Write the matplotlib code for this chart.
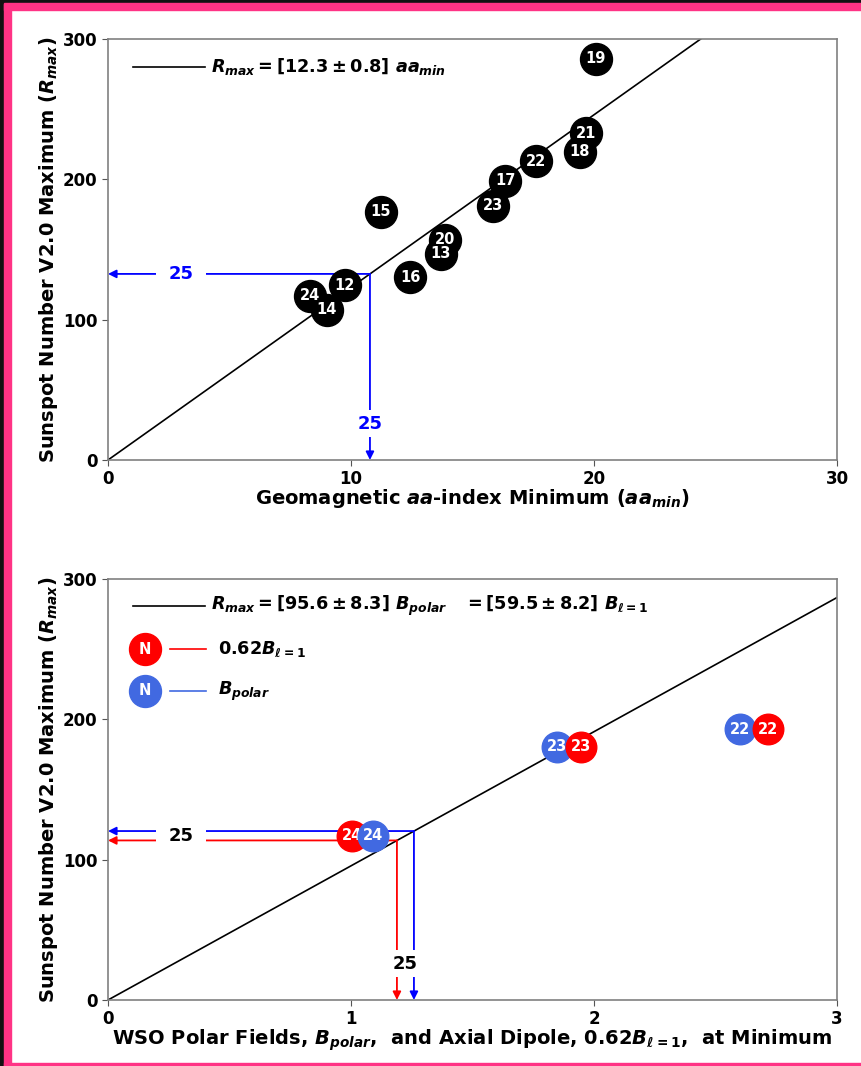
import matplotlib
matplotlib.use("Agg")
import matplotlib.pyplot as plt
from matplotlib.patches import Rectangle

plt.rcParams['font.family'] = ['DejaVu Sans']
plt.rcParams['font.weight'] = 'bold'
plt.rcParams['mathtext.fontset'] = 'custom'
plt.rcParams['mathtext.rm'] = 'DejaVu Sans:bold'
plt.rcParams['mathtext.it'] = 'DejaVu Sans:italic:bold'
plt.rcParams['mathtext.bf'] = 'DejaVu Sans:bold'

# ---- Top panel data: aa-index minimum vs R_max ----
cycles_aa = ['12', '13', '14', '15', '16', '17', '18', '19', '20', '21', '22', '23', '24']
aa_min = [9.75, 13.70, 9.01, 11.23, 12.43, 16.34, 19.42, 20.08, 13.87, 19.67, 17.61, 15.84, 8.31]
rmax_aa = [124.7, 146.8, 106.9, 176.8, 130.4, 198.9, 219.5, 285.8, 156.8, 233.0, 213.0, 181.0, 116.9]
slope_aa = 12.3
pred_aa_x = 10.78
pred_aa_y = 132.6

# ---- Bottom panel data: polar fields vs R_max ----
cycles_pol = ['22', '23', '24']
b_polar = [2.60, 1.848, 1.091]
b_dipole = [2.716, 1.947, 1.004]
rmax_pol = [193.0, 180.3, 116.9]
slope_pol = 95.6
pred_polar_x = 1.259
pred_polar_y = 120.4
pred_dip_x = 1.189
pred_dip_y = 113.7

W, H = 862, 1066
fig = plt.figure(figsize=(W / 100, H / 100), dpi=100)
fig.patch.set_facecolor('white')

# screenshot frame
pink = '#FF3385'
fig.patches.append(Rectangle((0, 0), 4 / W, 1, transform=fig.transFigure, color='#111111', zorder=-1))
fig.patches.append(Rectangle((4 / W, 0), 7 / W, 1, transform=fig.transFigure, color=pink, zorder=0))
fig.patches.append(Rectangle((0, 1 - 3 / H), 1, 3 / H, transform=fig.transFigure, color='#111111', zorder=0))
fig.patches.append(Rectangle((4 / W, 1 - 10 / H), 1, 7 / H, transform=fig.transFigure, color=pink, zorder=0))
fig.patches.append(Rectangle((4 / W, 0), 1, 3 / H, transform=fig.transFigure, color=pink, zorder=0))

ax1 = fig.add_axes([108 / W, 1 - 460 / H, 729 / W, 421 / H])
ax2 = fig.add_axes([108 / W, 1 - 1000 / H, 729 / W, 421 / H])

for ax in (ax1, ax2):
    for s in ax.spines.values():
        s.set_color('#808080')
        s.set_linewidth(1.2)
    ax.tick_params(labelsize=12, color='#555555', length=4)
    for lab in ax.get_xticklabels() + ax.get_yticklabels():
        lab.set_fontweight('bold')
    ax.set_ylim(0, 300)
    ax.set_yticks([0, 100, 200, 300])

ms = 23
lfs = 12.7
# ---- Top ----
ax1.set_xlim(0, 30)
ax1.set_xticks([0, 10, 20, 30])
ax1.plot([0, 30], [0, slope_aa * 30], color='black', lw=1.2, zorder=2)
for c, x, y in zip(cycles_aa, aa_min, rmax_aa):
    ax1.plot(x, y, 'o', color='black', ms=ms, zorder=3)
    ax1.text(x, y, c, color='white', fontsize=10.5, fontweight='bold', ha='center', va='center', zorder=4)

arr = dict(arrowstyle='-|>', lw=1.3, mutation_scale=12, shrinkA=0, shrinkB=0)
ax1.annotate('', xy=(0, pred_aa_y), xytext=(pred_aa_x, pred_aa_y),
             arrowprops=dict(color='blue', **arr), annotation_clip=False, zorder=2)
ax1.annotate('', xy=(pred_aa_x, 0), xytext=(pred_aa_x, pred_aa_y),
             arrowprops=dict(color='blue', **arr), annotation_clip=False, zorder=2)
ax1.text(3.0, pred_aa_y, '25', color='blue', fontsize=13, fontweight='bold', ha='center', va='center',
         bbox=dict(facecolor='white', edgecolor='none', boxstyle='square,pad=0.7'), zorder=3)
ax1.text(pred_aa_x, 25.7, '25', color='blue', fontsize=13, fontweight='bold', ha='center', va='center',
         bbox=dict(facecolor='white', edgecolor='none', boxstyle='square,pad=0.25'), zorder=3)

ax1.plot([0.0343, 0.133], [0.9335, 0.9335], transform=ax1.transAxes, color='black', lw=1.2)
ax1.text(0.1413, 0.9335, r'$R_{max} = [12.3 \pm 0.8]\ aa_{min}$', transform=ax1.transAxes,
         fontsize=lfs, va='center', ha='left')
ax1.set_xlabel(r'Geomagnetic $aa$-index Minimum ($aa_{min}$)', fontsize=14, fontweight='bold', labelpad=-1)
ax1.set_ylabel(r'Sunspot Number V2.0 Maximum ($R_{max}$)', fontsize=14, fontweight='bold', labelpad=2)

# ---- Bottom ----
ax2.set_xlim(0, 3)
ax2.set_xticks([0, 1, 2, 3])
ax2.plot([0, 3], [0, slope_pol * 3], color='black', lw=1.2, zorder=2)
z = 3
for c, xb, xd, y in zip(cycles_pol, b_polar, b_dipole, rmax_pol):
    pts = sorted([(xb, 'royalblue'), (xd, 'red')])
    for xx, col in pts:
        ax2.plot(xx, y, 'o', color=col, ms=ms - 1, zorder=z)
        ax2.text(xx, y, c, color='white', fontsize=10.5, fontweight='bold', ha='center', va='center',
                 zorder=z + 1)
        z += 2

for px, py, col in ((pred_polar_x, pred_polar_y, 'blue'), (pred_dip_x, pred_dip_y, 'red')):
    ax2.annotate('', xy=(0, py), xytext=(px, py),
                 arrowprops=dict(color=col, **arr), annotation_clip=False, zorder=2)
    ax2.annotate('', xy=(px, 0), xytext=(px, py),
                 arrowprops=dict(color=col, **arr), annotation_clip=False, zorder=2)
ax2.text(0.30, (pred_polar_y + pred_dip_y) / 2, '25', color='black', fontsize=13, fontweight='bold',
         ha='center', va='center', bbox=dict(facecolor='white', edgecolor='none', boxstyle='square,pad=0.7'),
         zorder=3)
ax2.text((pred_polar_x + pred_dip_x) / 2, 25.7, '25', color='black', fontsize=13, fontweight='bold',
         ha='center', va='center', bbox=dict(facecolor='white', edgecolor='none', boxstyle='square,pad=0.25'),
         zorder=3)

ax2.plot([0.0343, 0.133], [0.936, 0.936], transform=ax2.transAxes, color='black', lw=1.2)
ax2.text(0.1413, 0.936, r'$R_{max} = [95.6 \pm 8.3]\ B_{polar}\ \ \ = [59.5 \pm 8.2]\ B_{\ell=1}$',
         transform=ax2.transAxes, fontsize=lfs, va='center', ha='left')
for yy, col, lab in ((0.8337, 'red', r'$0.62B_{\ell=1}$'), (0.734, 'royalblue', r'$B_{polar}$')):
    ax2.plot(0.0508, yy, 'o', color=col, ms=ms, transform=ax2.transAxes)
    ax2.text(0.0508, yy, 'N', color='white', fontsize=10.5, fontweight='bold', ha='center', va='center',
             transform=ax2.transAxes)
    ax2.plot([0.085, 0.134], [yy, yy], color=col, lw=1.2, transform=ax2.transAxes)
    ax2.text(0.151, yy, lab, transform=ax2.transAxes, fontsize=lfs, va='center', ha='left')

ax2.set_xlabel(r'WSO Polar Fields, $B_{polar}$,  and Axial Dipole, $0.62B_{\ell=1}$,  at Minimum',
               fontsize=14, fontweight='bold', labelpad=-1)
ax2.set_ylabel(r'Sunspot Number V2.0 Maximum ($R_{max}$)', fontsize=14, fontweight='bold', labelpad=2)

fig.savefig('out.png', dpi=100)
